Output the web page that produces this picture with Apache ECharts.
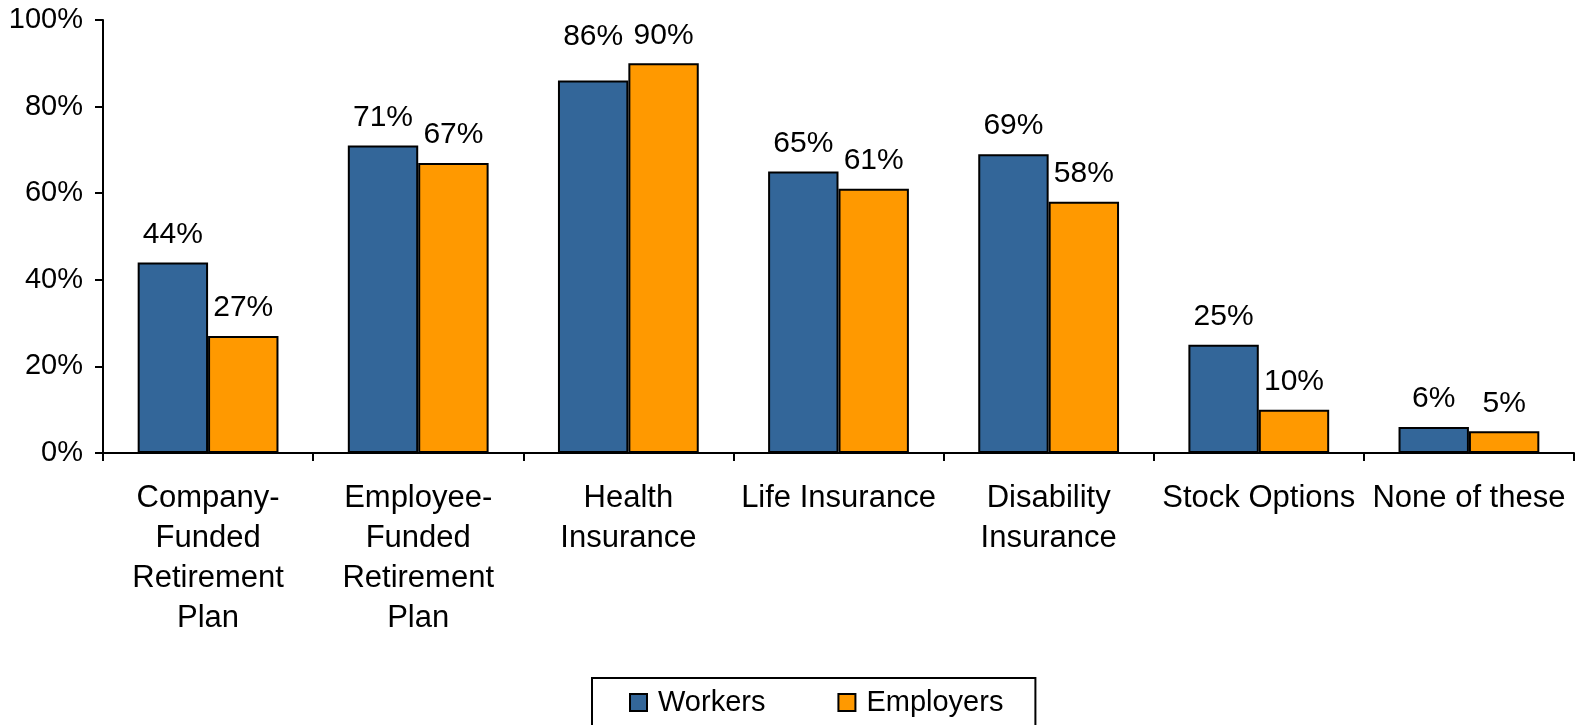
<!DOCTYPE html>
<html>
<head>
<meta charset="utf-8">
<script src="https://cdn.jsdelivr.net/npm/echarts@6/dist/echarts.min.js"></script>
<style>
  html, body { margin: 0; padding: 0; background: #fff; }
  #chart { width: 1576px; height: 725px; }
</style>
</head>
<body>
<div id="chart"></div>
<script>
// Benefits valued: workers vs employers (percent)
const categories = [
  'Company-\nFunded\nRetirement\nPlan',
  'Employee-\nFunded\nRetirement\nPlan',
  'Health\nInsurance',
  'Life Insurance',
  'Disability\nInsurance',
  'Stock Options',
  'None of these'
];
const workers = [44, 71, 86, 65, 69, 25, 6];
const employers = [27, 67, 90, 61, 58, 10, 5];
const yTicks = [0, 20, 40, 60, 80, 100];

const FONT = '"Liberation Sans", Arial, sans-serif';
const textBase = { fontFamily: FONT, fontSize: 29, color: '#000' };

// Health insurance worker label sits level with its neighbour's label
const raisedLabels = { 'Health\nInsurance': -16 };

function barData(values) {
  return values.map((v, i) => {
    const lift = raisedLabels[categories[i]];
    return lift && values === workers ? { value: v, label: { offset: [0, lift] } } : v;
  });
}

function barSeries(name, values, color) {
  return {
    name: name,
    type: 'bar',
    data: barData(values),
    barGap: '0%',
    barCategoryGap: '33%',
    itemStyle: { color: color, borderColor: '#000', borderWidth: 2 },
    label: {
      show: true,
      position: 'top',
      distance: 13,
      formatter: '{c}%',
      ...textBase,
      fontSize: 30
    }
  };
}

const chart = echarts.init(document.getElementById('chart'));
chart.setOption({
  animation: false,
  backgroundColor: '#fff',
  grid: { left: 103, right: 2, top: 20, bottom: 272, containLabel: false },
  legend: {
    data: ['Workers', 'Employers'],
    left: 592,
    top: 678,
    padding: [10, 32, 30, 37],
    itemGap: 72,
    itemWidth: 17,
    itemHeight: 17,
    icon: 'rect',
    borderColor: '#000',
    borderWidth: 2,
    textStyle: { ...textBase, fontSize: 29, padding: [0, 0, 0, 6] }
  },
  xAxis: {
    type: 'category',
    data: categories,
    axisLine: { lineStyle: { color: '#000', width: 2 } },
    axisTick: { show: true, length: 8, lineStyle: { color: '#000', width: 2 } },
    axisLabel: { ...textBase, fontSize: 31, margin: 25, lineHeight: 40, interval: 0 }
  },
  yAxis: {
    type: 'value',
    min: yTicks[0],
    max: yTicks[yTicks.length - 1],
    interval: yTicks[1] - yTicks[0],
    axisLine: { show: true, lineStyle: { color: '#000', width: 2 } },
    axisTick: { show: true, length: 8, lineStyle: { color: '#000', width: 2 } },
    splitLine: { show: false },
    axisLabel: { ...textBase, margin: 20, formatter: '{value}%' }
  },
  series: [
    barSeries('Workers', workers, '#336699'),
    barSeries('Employers', employers, '#FF9900')
  ]
});
</script>
</body>
</html>
